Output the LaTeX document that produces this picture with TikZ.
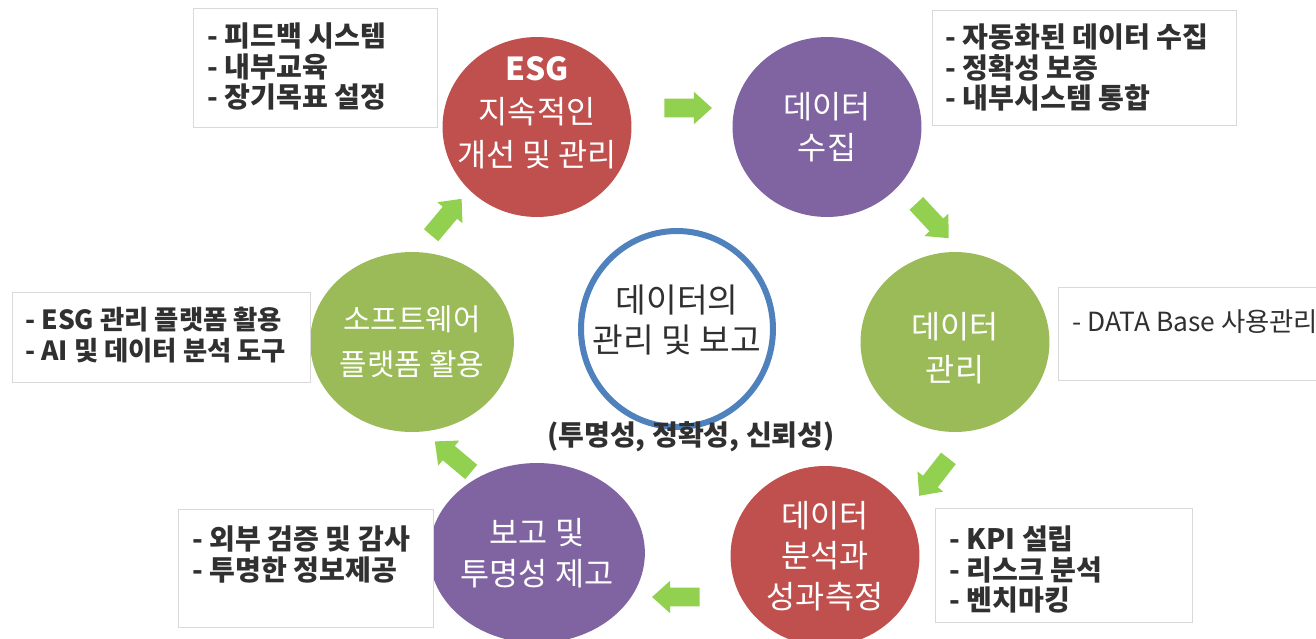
\documentclass[tikz,border=0pt]{standalone}
\usepackage{fontspec}
\setmainfont{Noto Sans CJK KR}
\usetikzlibrary{shapes.geometric,shapes.arrows}

\definecolor{esgred}{HTML}{C0504D}
\definecolor{esgpurple}{HTML}{8064A2}
\definecolor{esggreen}{HTML}{9BBB59}
\definecolor{ringblue}{HTML}{4F81BD}
\definecolor{arrowgreen}{HTML}{92D050}
\definecolor{boxline}{HTML}{D9D9D9}
\definecolor{inktext}{HTML}{303030}

\tikzset{
  bubble/.style={ellipse, minimum width=3.78cm, minimum height=3.6cm, inner sep=0pt,
    text=white, align=center, font=\fontsize{18}{23.2}\selectfont},
  bubbletext/.style={text=white, align=center, font=\fontsize{18}{24.4}\selectfont},
  ring/.style={ellipse, draw=ringblue, line width=0.12cm, minimum width=3.84cm,
    minimum height=3.92cm, inner sep=0pt},
  coretext/.style={text=inktext, align=center, font=\fontsize{19}{22.8}\selectfont},
  captext/.style={text=inktext, font=\bfseries\fontsize{16}{18}\selectfont},
  note/.style={draw=boxline, line width=0.7pt, fill=white, anchor=north west, inner sep=0pt},
  notetext/.style={anchor=north west, align=left, inner sep=0pt, text=inktext,
    font=\bfseries\fontsize{16}{17.6}\selectfont},
  flow/.style={single arrow, fill=arrowgreen, draw=none, inner sep=0.18cm,
    minimum height=0.95cm, single arrow head extend=0.14cm, single arrow tip angle=84},
}

\begin{document}
\begin{tikzpicture}[x=0.02cm, y=-0.02cm]
  \useasboundingbox[fill=white] (0,0) rectangle (1316,639);

  % centre
  \node[ring] (core) at (677,329) {};
  \node[coretext] (coretxt) at ([yshift=0.18cm]core.center) {데이터의\\관리 및 보고};
  \node[captext] (cap) at (691,437) {(투명성, 정확성, 신뢰성)};

  % stages
  \node[bubble, fill=esgred] (esg) at (537,127) {};
  \node[bubbletext] (esgtxt) at ([yshift=0.28cm]esg.center) {\textbf{ESG}\\지속적인\\개선 및 관리};
  \node[bubble, fill=esgpurple] (collect) at (827,127) {데이터\\수집};
  \node[bubble, fill=esggreen] (manage) at (955,342) {};
  \node[bubbletext] (managetxt) at ([yshift=-0.12cm]manage.center) {데이터\\관리};
  \node[bubble, fill=esgred] (analyse) at (825,556) {데이터\\분석과\\성과측정};
  \node[bubble, fill=esgpurple] (report) at (537,553) {보고 및\\투명성 제고};
  \node[bubble, fill=esggreen, font=\fontsize{17}{25.6}\selectfont] (software) at (412,342) {소프트웨어\\플랫폼 활용};

  % green arrows
  \node[flow] (f1) at (683,108) {};
  \node[flow, rotate=-47] (f2) at (929,217) {};
  \node[flow, rotate=-128] (f3) at (937,473) {};
  \node[flow, rotate=180] (f4) at (681,597) {};
  \node[flow, rotate=140] (f5) at (457,460) {};
  \node[flow, rotate=50] (f6) at (443,221) {};

  % notes
  \node[note, minimum width=4.88cm, minimum height=2.38cm] (n1) at (193,8) {};
  \node[notetext] at ([shift={(14,14)}]n1.north west) {- 피드백 시스템\\- 내부교육\\- 장기목표 설정};
  \node[note, minimum width=6.08cm, minimum height=2.3cm] (n2) at (932,10) {};
  \node[notetext] at ([shift={(13,13)}]n2.north west) {- 자동화된 데이터 수집\\- 정확성 보증\\- 내부시스템 통합};
  \node[note, minimum width=5.96cm, minimum height=1.8cm] (n3) at (12,292) {};
  \node[notetext, font=\bfseries\fontsize{15}{17.2}\selectfont] at ([shift={(13,15)}]n3.north west) {- ESG 관리 플랫폼 활용\\- AI 및 데이터 분석 도구};
  \node[note, minimum width=5.3cm, minimum height=1.86cm] (n4) at (1058,287) {};
  \node[notetext, font=\fontsize{15}{17.6}\selectfont] at ([shift={(14,22)}]n4.north west) {- DATA Base 사용관리};
  \node[note, minimum width=5.1cm, minimum height=2.36cm] (n5) at (178,509) {};
  \node[notetext] at ([shift={(14,16)}]n5.north west) {- 외부 검증 및 감사\\- 투명한 정보제공};
  \node[note, minimum width=5.14cm, minimum height=2.28cm] (n6) at (935,508) {};
  \node[notetext] at ([shift={(14,17)}]n6.north west) {- KPI 설립\\- 리스크 분석\\- 벤치마킹};
\end{tikzpicture}
\end{document}
